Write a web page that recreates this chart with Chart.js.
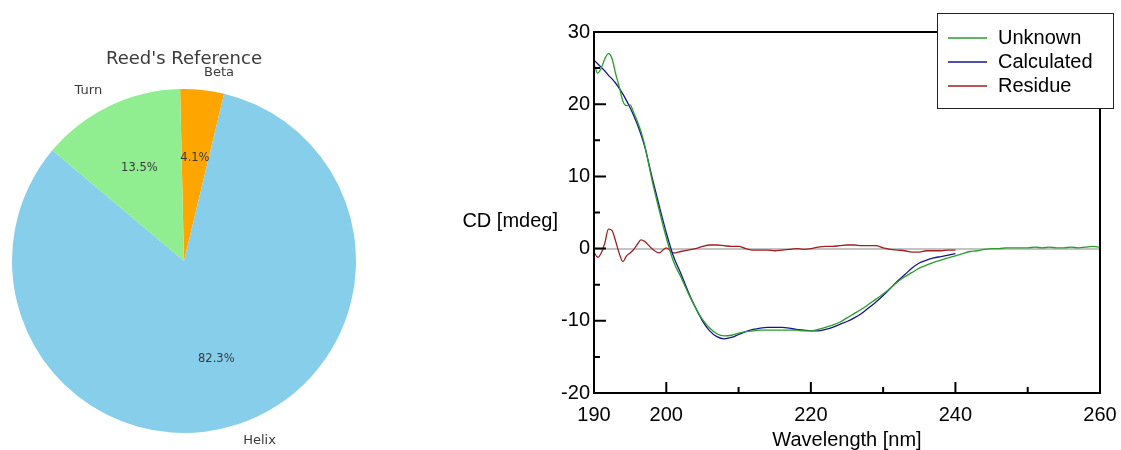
<!DOCTYPE html>
<html>
<head>
<meta charset="utf-8">
<script src="https://cdn.jsdelivr.net/npm/chart.js@4.4.1/dist/chart.umd.min.js"></script>
<style>
  html, body { margin: 0; padding: 0; background: #fff; width: 1121px; height: 450px; overflow: hidden; }
  #pie { position: absolute; left: 0; top: 0; }
  #cd { position: absolute; left: 440px; top: 0; }
</style>
</head>
<body>
<canvas id="pie" width="368" height="450"></canvas>
<canvas id="cd" width="681" height="450"></canvas>
<script>
// ---- pie data ----
var pieTitle = "Reed's Reference";
var sliceLabels = ['Beta', 'Helix', 'Turn'];
var sliceValues = [4.1, 82.3, 13.5];
var sliceColors = ['#ffa500', '#87ceeb', '#90ee90'];

// ---- CD spectrum data ----
var wavelengths = [190, 190.5, 191, 191.5, 192, 192.5, 193, 193.5, 194, 194.5, 195, 195.5, 196, 196.5, 197,
  198, 199, 200, 201, 202, 203, 204, 205, 206, 207, 208, 209, 210, 211, 212, 213, 214, 215, 216, 217, 218, 219,
  220, 221, 222, 223, 224, 225, 226, 227, 228, 229, 230, 231, 232, 233, 234, 235, 236, 237, 238, 239, 240,
  241, 242, 243, 244, 245, 246, 247, 248, 249, 250, 251, 252, 253, 254, 255, 256, 257, 258, 259, 260];
var unknown = [25.6, 24.3, 25.0, 26.3, 27.0, 26.3, 24.2, 22.4, 20.4, 19.8, 19.9, 18.8, 17.6, 16.2, 14.4,
  9.6, 5.4, 1.5, -1.8, -3.9, -6.1, -8.1, -9.8, -11.0, -11.8, -12.1, -12.0, -11.7, -11.5, -11.4, -11.3, -11.3, -11.3, -11.3, -11.3, -11.3, -11.4,
  -11.4, -11.2, -10.9, -10.6, -10.2, -9.6, -9.0, -8.4, -7.7, -7.0, -6.3, -5.5, -4.6, -3.9, -3.3, -2.7, -2.3, -1.9, -1.6, -1.3, -1.0,
  -0.7, -0.4, -0.3, -0.1, 0.0, 0.0, 0.1, 0.1, 0.1, 0.1, 0.2, 0.1, 0.2, 0.1, 0.1, 0.2, 0.1, 0.2, 0.3, 0.2];
var calculated = [26.1, 25.6, 25.1, 24.6, 24.0, 23.5, 22.9, 22.2, 21.4, 20.5, 19.5, 18.4, 17.2, 15.8, 14.2,
  10.0, 6.0, 2.2, -1.1, -3.4, -5.9, -8.1, -10.0, -11.4, -12.2, -12.5, -12.3, -11.9, -11.5, -11.2, -11.0, -10.9, -10.9, -10.9, -11.0, -11.2, -11.3,
  -11.4, -11.4, -11.2, -10.9, -10.5, -10.1, -9.6, -9.0, -8.2, -7.4, -6.5, -5.5, -4.5, -3.6, -2.7, -2.0, -1.6, -1.3, -1.1, -0.9, -0.7];
var residue = [-0.5, -1.2, -0.6, 0.8, 2.7, 2.5, 1.0, -0.7, -1.8, -1.0, -0.6, -0.1, 0.6, 1.2, 1.0,
  0.0, -0.6, 0.1, -0.6, -0.4, -0.2, 0.0, 0.3, 0.5, 0.5, 0.4, 0.3, 0.3, 0.0, -0.2, -0.2, -0.2, -0.3, -0.2, -0.1, 0.0, -0.1,
  0.0, 0.2, 0.3, 0.3, 0.4, 0.5, 0.5, 0.4, 0.4, 0.4, 0.1, -0.1, -0.2, -0.3, -0.5, -0.5, -0.3, -0.3, -0.3, -0.2, -0.2];
var seriesNames = ['Unknown', 'Calculated', 'Residue'];
var seriesColors = ['#2a9d2a', '#16168c', '#9e1f1f'];
var xTicks = [190, 200, 220, 240, 260];

function points(vals) {
  return vals.map(function (v, i) { return { x: wavelengths[i], y: v }; });
}

// =====================
// Pie chart
// =====================
var pieText = {
  id: 'pieText',
  afterDraw: function (chart) {
    var ctx = chart.ctx;
    var arcs = chart.getDatasetMeta(0).data;
    ctx.save();
    ctx.fillStyle = '#3a3a3a';
    ctx.textBaseline = 'middle';
    ctx.textAlign = 'center';
    ctx.font = '18px "DejaVu Sans"';
    ctx.fillText(pieTitle, arcs[0].x, arcs[0].y - arcs[0].outerRadius - 30);
    arcs.forEach(function (arc, i) {
      var mid = (arc.startAngle + arc.endAngle) / 2;
      var c = Math.cos(mid), s = Math.sin(mid), r = arc.outerRadius;
      ctx.font = '13px "DejaVu Sans"';
      ctx.textAlign = c > 0 ? 'left' : 'right';
      ctx.fillText(sliceLabels[i], arc.x + 1.1 * r * c, arc.y + 1.1 * r * s);
      ctx.font = '11.5px "DejaVu Sans"';
      ctx.textAlign = 'center';
      ctx.fillText(sliceValues[i].toFixed(1) + '%', arc.x + 0.6 * r * c, arc.y + 0.6 * r * s);
    });
    ctx.restore();
  }
};

new Chart(document.getElementById('pie').getContext('2d'), {
  type: 'pie',
  data: {
    labels: sliceLabels,
    datasets: [{ data: sliceValues, backgroundColor: sliceColors, borderWidth: 0 }]
  },
  options: {
    responsive: false,
    animation: false,
    rotation: -1.3,
    layout: { padding: { left: 12, right: 12, top: 89, bottom: 17 } },
    plugins: { legend: { display: false }, tooltip: { enabled: false } }
  },
  plugins: [pieText]
});

// =====================
// CD spectrum
// =====================
var cdDecor = {
  id: 'cdDecor',
  afterDatasetsDraw: function (chart) {
    var ctx = chart.ctx, a = chart.chartArea;
    var xs = chart.scales.x, ys = chart.scales.y;
    ctx.save();
    ctx.strokeStyle = '#000';
    ctx.lineWidth = 2;
    ctx.strokeRect(a.left, a.top, a.right - a.left, a.bottom - a.top);
    ctx.beginPath();
    for (var v = -20; v <= 30; v += 5) {
      var py = ys.getPixelForValue(v);
      ctx.moveTo(a.left, py);
      ctx.lineTo(a.left + (v % 10 === 0 ? 12 : 6), py);
    }
    for (var w = 200; w < 260; w += 10) {
      var px = xs.getPixelForValue(w);
      ctx.moveTo(px, a.bottom);
      ctx.lineTo(px, a.bottom - (w % 20 === 0 ? 11 : 6));
    }
    ctx.stroke();
    ctx.restore();
  },
  afterDraw: function (chart) {
    var ctx = chart.ctx, a = chart.chartArea;
    ctx.save();
    // y axis title, written horizontally
    ctx.fillStyle = '#000';
    ctx.font = '20px "Liberation Sans", Arial, sans-serif';
    ctx.textAlign = 'right';
    ctx.textBaseline = 'middle';
    ctx.fillText('CD [mdeg]', a.left - 36, (a.top + a.bottom) / 2 + 9);
    // legend box
    var lx = a.right - 163, ly = 13, lw = 176, lh = 95;
    ctx.fillStyle = '#fff';
    ctx.fillRect(lx, ly, lw, lh);
    ctx.strokeStyle = '#222';
    ctx.lineWidth = 1;
    ctx.strokeRect(lx + 0.5, ly + 0.5, lw, lh);
    ctx.textAlign = 'left';
    chart.data.datasets.forEach(function (ds, i) {
      var yy = ly + 25 + i * 24;
      ctx.strokeStyle = ds.borderColor;
      ctx.lineWidth = 1.3;
      ctx.beginPath();
      ctx.moveTo(lx + 11, yy);
      ctx.lineTo(lx + 50, yy);
      ctx.stroke();
      ctx.fillStyle = '#000';
      ctx.fillText(ds.label, lx + 61, yy);
    });
    ctx.restore();
  }
};

var cdSets = [unknown, calculated, residue].map(function (vals, i) {
  return {
    label: seriesNames[i],
    data: points(vals),
    borderColor: seriesColors[i],
    borderWidth: 1.3,
    pointRadius: 0,
    fill: false,
    cubicInterpolationMode: 'monotone'
  };
});

new Chart(document.getElementById('cd').getContext('2d'), {
  type: 'line',
  data: { datasets: cdSets },
  options: {
    responsive: false,
    animation: false,
    layout: { padding: { left: 0, right: 21, top: 32, bottom: 0 } },
    plugins: { legend: { display: false }, tooltip: { enabled: false } },
    scales: {
      x: {
        type: 'linear',
        min: 190,
        max: 260,
        afterFit: function (s) { s.height = 57; },
        afterBuildTicks: function (s) { s.ticks = xTicks.map(function (v) { return { value: v }; }); },
        grid: { display: false },
        border: { display: false },
        ticks: {
          padding: 2,
          color: '#000',
          font: { family: '"Liberation Sans", Arial, sans-serif', size: 20 },
          maxRotation: 0
        },
        title: {
          display: true,
          text: 'Wavelength [nm]',
          color: '#000',
          font: { family: '"Liberation Sans", Arial, sans-serif', size: 20, lineHeight: 1 },
          padding: { top: 0, bottom: 0 }
        }
      },
      y: {
        min: -20,
        max: 30,
        afterFit: function (s) { s.width = 154; },
        grid: {
          drawTicks: false,
          color: function (c) { return c.tick && c.tick.value === 0 ? '#c4c4c4' : 'rgba(0,0,0,0)'; },
          lineWidth: function (c) { return c.tick && c.tick.value === 0 ? 2 : 0; }
        },
        border: { display: false },
        ticks: {
          stepSize: 10,
          padding: 4,
          color: '#000',
          font: { family: '"Liberation Sans", Arial, sans-serif', size: 20 }
        }
      }
    }
  },
  plugins: [cdDecor]
});
</script>
</body>
</html>
